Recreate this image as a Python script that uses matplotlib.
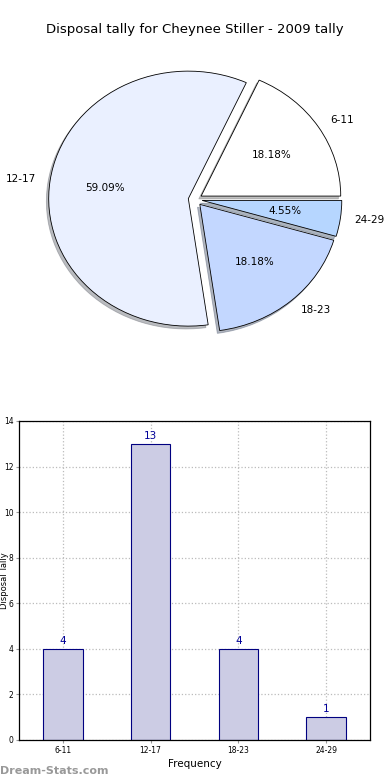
import matplotlib
matplotlib.use("Agg")
import matplotlib.pyplot as plt

categories = ["6-11", "12-17", "18-23", "24-29"]
counts = [4, 13, 4, 1]
pie_colors = ["#FFFFFF", "#EAF0FF", "#C3D7FF", "#B6D6FF"]
title = "Disposal tally for Cheynee Stiller - 2009 tally"

fig = plt.figure(figsize=(3.9, 7.8), dpi=100)

# Pie chart
ax1 = fig.add_axes([0.0531, 0.5399, 0.895, 0.4086])
wedges, texts, autotexts = ax1.pie(
    counts, labels=categories, colors=pie_colors, explode=[0.05] * 4,
    autopct="%1.2f%%", shadow=dict(ox=-0.012, oy=-0.016, shade=0.5),
    startangle=0,
    wedgeprops=dict(edgecolor="black", linewidth=0.6),
    textprops=dict(fontsize=7.5))
ax1.set_aspect("auto")
ax1.set_xlim(-1.25, 1.25)
ax1.set_ylim(-1.25, 1.25)
ax1.set_title(title, fontsize=9.5, pad=5)

# Bar chart
ax2 = fig.add_axes([0.0487, 0.0513, 0.9, 0.4090])
x = list(range(len(categories)))
bars = ax2.bar(x, counts, width=0.45, color="#CCCCE4", edgecolor="#000080", linewidth=0.8, zorder=2)
for xi, v in zip(x, counts):
    ax2.text(xi, v + 0.12, str(v), ha="center", va="bottom", color="#000099", fontsize=7.5)
ax2.set_xlim(-0.5, 3.5)
ax2.set_ylim(0, 14)
ax2.set_yticks(range(0, 15, 2))
ax2.set_xticks(x)
ax2.set_xticklabels(categories)
ax2.tick_params(labelsize=5.5, length=2, color="#999999", pad=2)
ax2.grid(True, linestyle=":", color="#BBBBBB", linewidth=0.9, zorder=0)
ax2.set_axisbelow(True)
ax2.set_xlabel("Frequency", fontsize=7.5, labelpad=3)
ax2.set_ylabel("Disposal Tally", fontsize=6, labelpad=1)
ax2.yaxis.set_label_coords(-0.028, 0.5)
for s in ax2.spines.values():
    s.set_linewidth(0.9)

fig.text(0.0, 0.012, "Dream-Stats.com", fontsize=8, color="#999999", fontweight="bold", ha="left", va="center")

fig.savefig("out.png", dpi=100)
